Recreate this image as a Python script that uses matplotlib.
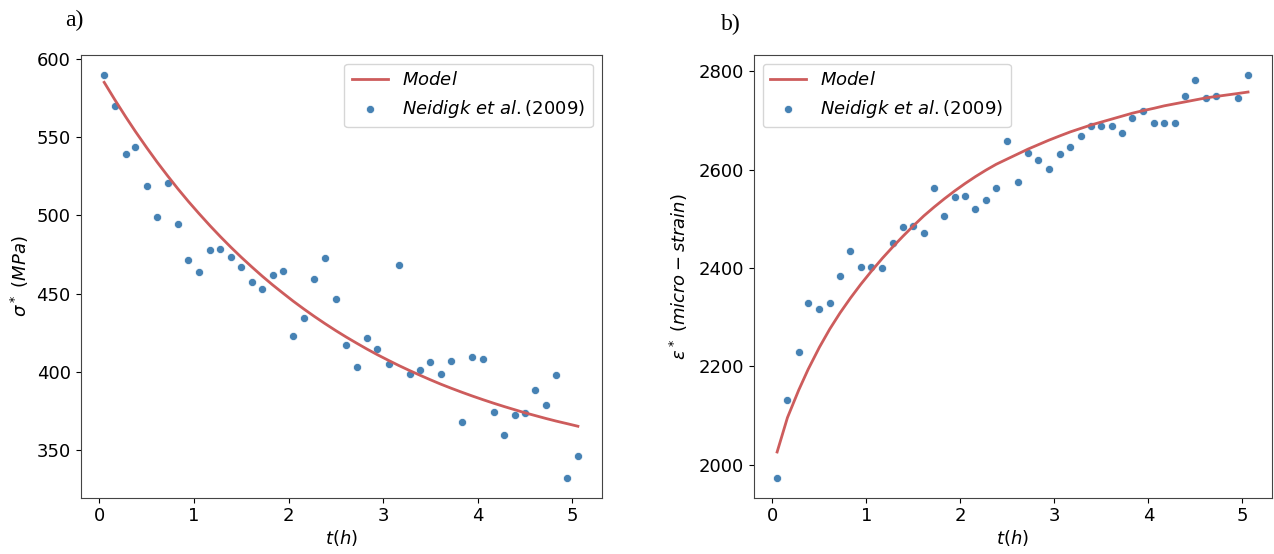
import numpy as np
from matplotlib import pyplot as plt

# time grid (h)
t_data = [0.05, 0.16, 0.28, 0.38, 0.50, 0.61, 0.72, 0.83, 0.94, 1.05,
          1.17, 1.28, 1.39, 1.50, 1.61, 1.72, 1.83, 1.94, 2.05, 2.16,
          2.27, 2.38, 2.50, 2.61, 2.72, 2.83, 2.94, 3.06, 3.17, 3.28,
          3.39, 3.50, 3.61, 3.72, 3.83, 3.94, 4.06, 4.17, 4.28, 4.39,
          4.50, 4.61, 4.72, 4.83, 4.95, 5.06]

# a) stress, Neidigk et al. (2009)
sigma_exp = [589.8, 570.0, 539.3, 543.6, 518.5, 499.1, 520.4, 494.4, 471.2, 463.9,
             477.9, 478.2, 473.6, 466.9, 457.6, 452.7, 462.1, 464.6, 423.1, 434.2,
             459.2, 472.5, 446.6, 417.2, 402.8, 421.8, 414.3, 404.8, 468.5, 398.3,
             401.0, 406.0, 398.5, 406.9, 367.6, 409.3, 408.0, 374.6, 359.5, 372.3,
             373.5, 388.6, 379.1, 398.1, 332.4, 346.2]

# a) model curve
sigma_model = [585.0, 574.1, 562.7, 553.6, 543.2, 534.0, 525.3, 516.9, 508.9, 501.3,
               493.3, 486.3, 479.6, 473.2, 467.1, 461.2, 455.6, 450.3, 445.1, 440.2,
               435.5, 431.0, 426.3, 422.2, 418.3, 414.5, 410.9, 407.2, 403.9, 400.8,
               397.8, 394.9, 392.1, 389.5, 387.0, 384.6, 382.1, 379.9, 377.8, 375.8,
               373.8, 372.0, 370.2, 368.5, 366.8, 365.2]

# b) strain, no point at t=4.83
t_strain = [t for t in t_data if t != 4.83]

eps_exp = [1974, 2131, 2230, 2330, 2316, 2329, 2384, 2434, 2402, 2402,
           2401, 2452, 2484, 2485, 2471, 2563, 2506, 2545, 2546, 2520,
           2539, 2563, 2658, 2575, 2634, 2620, 2602, 2633, 2646, 2669,
           2689, 2689, 2689, 2675, 2706, 2720, 2695, 2695, 2695, 2750,
           2782, 2745, 2750, 2745, 2793]

eps_model = [2026, 2096, 2152, 2194, 2239, 2276, 2309, 2339, 2367, 2393,
             2420, 2443, 2465, 2486, 2506, 2524, 2541, 2557, 2572, 2586,
             2599, 2611, 2622, 2632, 2642, 2651, 2660, 2669, 2677, 2684,
             2691, 2697, 2703, 2709, 2715, 2720, 2725, 2730, 2734, 2738,
             2742, 2746, 2749, 2755, 2758]

line_color = "indianred"
dot_color = "steelblue"

fig = plt.figure(figsize=(12.74, 5.54), dpi=100)
ax1 = fig.add_axes([0.0632, 0.1016, 0.4090, 0.7997])
ax2 = fig.add_axes([0.5915, 0.1016, 0.4066, 0.7997])

for ax in (ax1, ax2):
    ax.tick_params(labelsize=13)
    for s in ax.spines.values():
        s.set_color("#444444")

ax1.plot(t_data, sigma_model, color=line_color, lw=2, label="$Model$")
ax1.scatter(t_data, sigma_exp, color=dot_color, s=34, edgecolors="white",
            linewidths=0.5, label="$Neidigk\\ et\\ al.$(2009)")
ax1.set_xlabel("$t(h)$", fontsize=13, labelpad=2)
ax1.set_ylabel("$\\sigma^*\\ (MPa)$", fontsize=13)
ax1.set_yticks([350, 400, 450, 500, 550, 600])
ax1.legend(loc="upper right", fontsize=13)

ax2.plot(t_strain, eps_model, color=line_color, lw=2, label="$Model$")
ax2.scatter(t_strain, eps_exp, color=dot_color, s=34, edgecolors="white",
            linewidths=0.5, label="$Neidigk\\ et\\ al.$(2009)")
ax2.set_xlabel("$t(h)$", fontsize=13, labelpad=2)
ax2.set_ylabel("$\\varepsilon^*\\ (micro-strain)$", fontsize=13, labelpad=6)
ax2.set_yticks([2000, 2200, 2400, 2600, 2800])
ax2.legend(loc="upper left", fontsize=13)

fig.text(0.051, 0.963, "a)", fontsize=17, family="Liberation Serif", va="center")
fig.text(0.566, 0.955, "b)", fontsize=17, family="Liberation Serif", va="center")

fig.savefig("out.png", dpi=100)
